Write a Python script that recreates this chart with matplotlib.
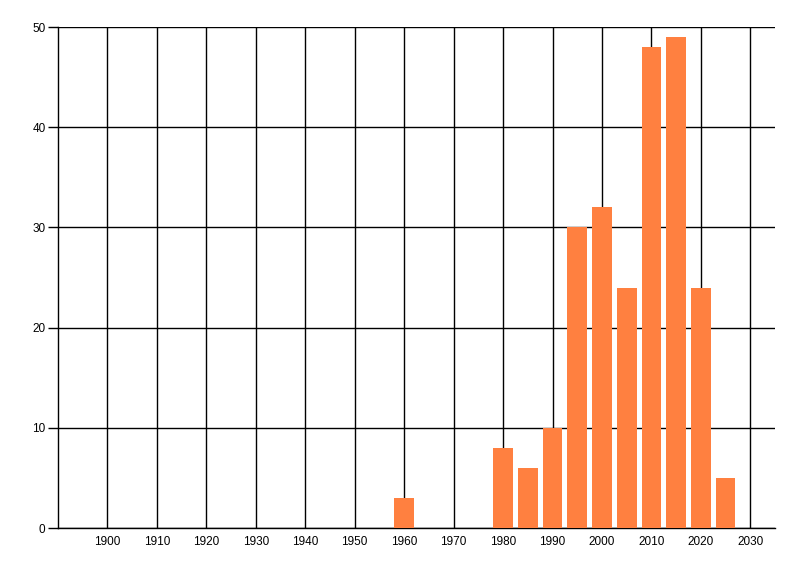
import matplotlib
matplotlib.use('Agg')
import matplotlib.pyplot as plt

# decade/half-decade buckets and counts
years = [1960, 1980, 1985, 1990, 1995, 2000, 2005, 2010, 2015, 2020, 2025]
counts = [3, 8, 6, 10, 30, 32, 24, 48, 49, 24, 5]
x_ticks = list(range(1900, 2031, 10))
y_ticks = [0, 10, 20, 30, 40, 50]

plt.rcParams['font.family'] = ['Liberation Sans', 'DejaVu Sans']

fig = plt.figure(figsize=(8, 5.76), dpi=100)
ax = fig.add_axes([0.0725, 0.0833, 0.8963, 0.8698])

ax.bar(years, counts, width=4, color='#FF8040', zorder=3)

ax.set_xlim(1890, 2035)
ax.set_ylim(0, 50)
ax.set_xticks(x_ticks)
ax.set_yticks(y_ticks)
ax.grid(True, color='black', linewidth=1.0, zorder=1)
ax.set_axisbelow(True)

for side in ['top', 'right']:
    ax.spines[side].set_visible(False)
ax.spines['left'].set_linewidth(1.0)
ax.spines['bottom'].set_linewidth(1.0)

ax.tick_params(axis='x', length=0, pad=6, labelsize=8.5)
ax.tick_params(axis='y', length=7, width=1.0, pad=2, labelsize=8.5)

fig.savefig('out.png', dpi=100)
